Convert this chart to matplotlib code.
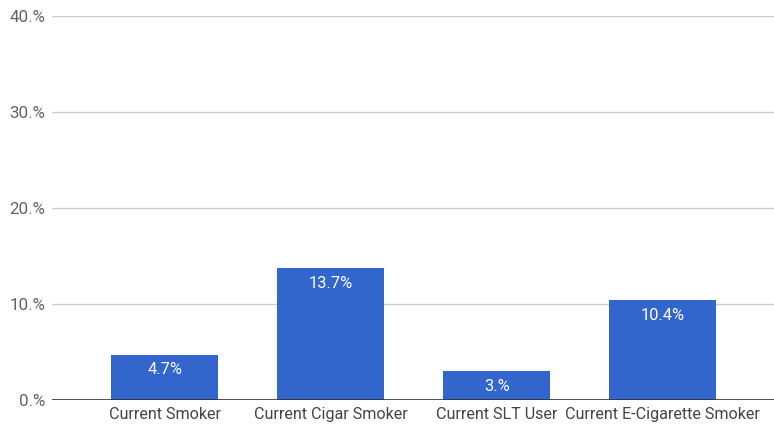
import matplotlib
matplotlib.use("Agg")
import matplotlib.pyplot as plt
from matplotlib.ticker import FuncFormatter

categories = ["Current Smoker", "Current Cigar Smoker", "Current SLT User",
              "Current E-Cigarette Smoker"]
values = [4.7, 13.7, 3.0, 10.4]
value_labels = ["4.7%", "13.7%", "3.%", "10.4%"]
y_ticks = [0, 10, 20, 30, 40]

plt.rcParams["font.family"] = ["Roboto", "DejaVu Sans"]

fig = plt.figure(figsize=(7.74, 4.24), dpi=100)
ax = fig.add_axes([52 / 774, 24 / 424, 722 / 774, 384 / 424])

x = list(range(len(categories)))
bars = ax.bar(x, values, width=0.645, color="#3366cc", zorder=3)

for rect, lab in zip(bars, value_labels):
    top = rect.get_height()
    ax.annotate(lab, (rect.get_x() + rect.get_width() / 2, top),
                xytext=(0, -15), textcoords="offset pixels",
                ha="center", va="center", color="white", fontsize=11.8, zorder=4)

ax.set_xlim(-0.68, 3.67)
ax.set_ylim(0, 40)
ax.set_yticks(y_ticks)
ax.yaxis.set_major_formatter(FuncFormatter(lambda v, p: f"{v:.0f}.%"))
ax.grid(axis="y", color="#cccccc", linewidth=1, zorder=0)
ax.axhline(0, color="#333333", linewidth=1.2, zorder=5)

ax.set_xticks(x)
ax.set_xticklabels(categories, fontsize=11.6)
for s in ax.spines.values():
    s.set_visible(False)
ax.tick_params(axis="both", length=0, colors="#5f6368")
ax.tick_params(axis="y", labelsize=12.2, pad=5)
ax.tick_params(axis="x", pad=5, labelcolor="#444444")

fig.savefig("out.png", dpi=100, facecolor="white")
